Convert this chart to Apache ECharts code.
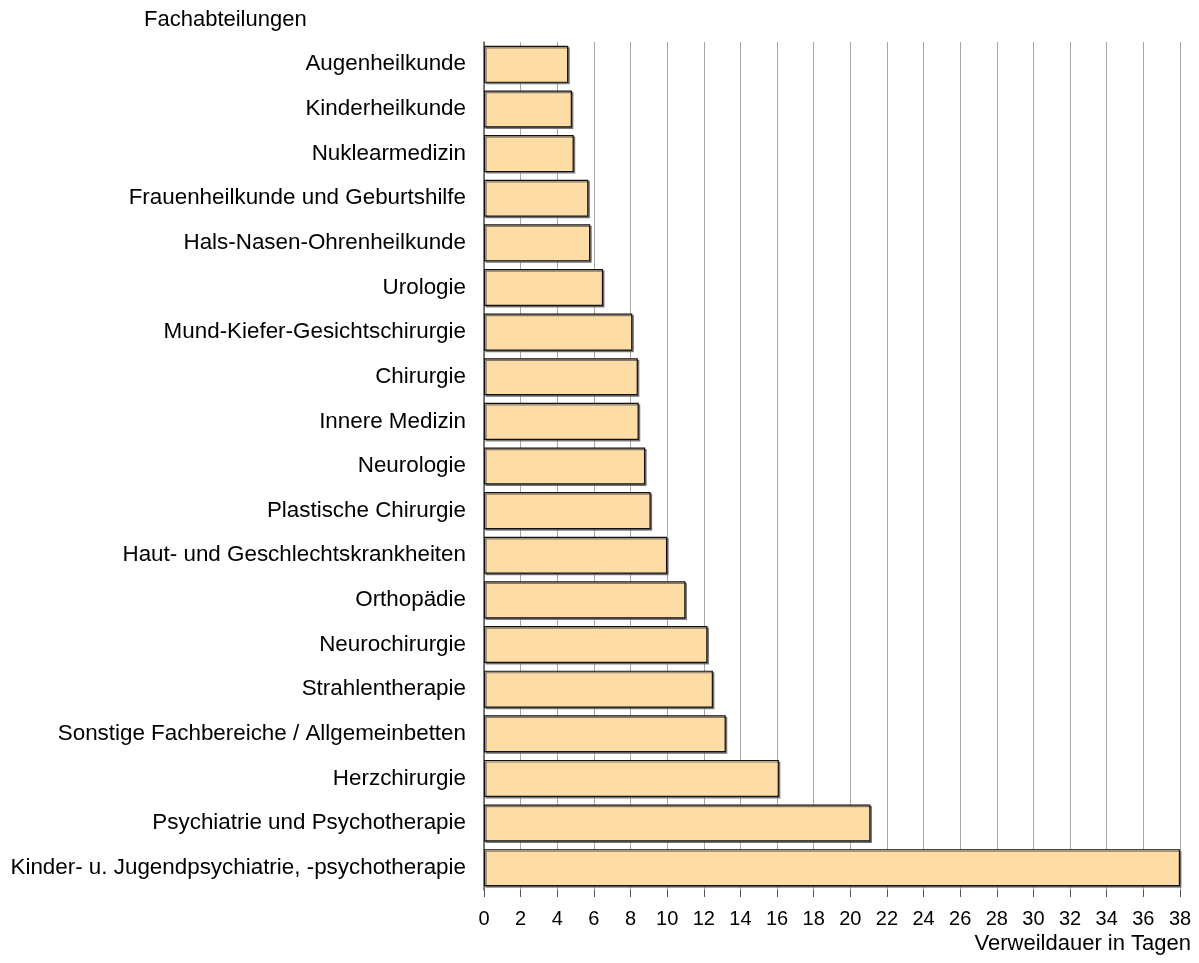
<!DOCTYPE html>
<html>
<head>
<meta charset="utf-8">
<script src="https://cdn.jsdelivr.net/npm/echarts@6/dist/echarts.min.js"></script>
<style>
  html, body { margin: 0; padding: 0; background: #fff; }
  #chart { width: 1199px; height: 963px; }
</style>
</head>
<body>
<div id="chart"></div>
<script>
// Fachabteilungen, top to bottom
const departments = [
  'Augenheilkunde',
  'Kinderheilkunde',
  'Nuklearmedizin',
  'Frauenheilkunde und Geburtshilfe',
  'Hals-Nasen-Ohrenheilkunde',
  'Urologie',
  'Mund-Kiefer-Gesichtschirurgie',
  'Chirurgie',
  'Innere Medizin',
  'Neurologie',
  'Plastische Chirurgie',
  'Haut- und Geschlechtskrankheiten',
  'Orthopädie',
  'Neurochirurgie',
  'Strahlentherapie',
  'Sonstige Fachbereiche / Allgemeinbetten',
  'Herzchirurgie',
  'Psychiatrie und Psychotherapie',
  'Kinder- u. Jugendpsychiatrie, -psychotherapie'
];

// Durchschnittliche Verweildauer in Tagen
const stayDays = [
  4.6, 4.8, 4.9, 5.7, 5.8, 6.5, 8.1, 8.4, 8.45, 8.8,
  9.1, 10.0, 11.0, 12.2, 12.5, 13.2, 16.1, 21.1, 38.0
];

const axisMin = 0;
const axisMax = 38;
const axisStep = 2;

const FONT = 'Liberation Sans, Arial, sans-serif';

const chart = echarts.init(document.getElementById('chart'), null, { renderer: 'canvas' });

chart.setOption({
  animation: false,
  backgroundColor: '#ffffff',
  textStyle: { fontFamily: FONT },
  title: [
    {
      text: 'Fachabteilungen',
      left: 144,
      top: 9,
      padding: 0,
      textStyle: { fontSize: 22, fontWeight: 'normal', color: '#000', fontFamily: FONT }
    },
    {
      text: 'Verweildauer in Tagen',
      right: 8,
      top: 933,
      padding: 0,
      textStyle: { fontSize: 22, fontWeight: 'normal', color: '#000', fontFamily: FONT }
    }
  ],
  grid: { left: 484, right: 19, top: 42, bottom: 73, containLabel: false },
  xAxis: {
    type: 'value',
    min: axisMin,
    max: axisMax,
    interval: axisStep,
    axisLine: { show: false },
    axisTick: { show: true, length: 7, lineStyle: { color: '#555', width: 1 } },
    axisLabel: { fontSize: 20, color: '#000', margin: 19 },
    splitLine: { show: true, lineStyle: { color: '#a6a6a6', width: 1 } }
  },
  yAxis: {
    type: 'category',
    data: departments,
    inverse: true,
    axisLine: { show: true, lineStyle: { color: '#555', width: 1.5 } },
    axisTick: { show: false },
    axisLabel: { fontSize: 22.4, color: '#000', margin: 18, padding: [0, 0, 4, 0] },
    splitLine: { show: false }
  },
  series: [{
    type: 'bar',
    data: stayDays,
    barCategoryGap: '17%',
    itemStyle: {
      color: '#fedca6',
      borderColor: '#111',
      borderWidth: 1.2,
      shadowColor: 'rgba(90,90,90,0.75)',
      shadowOffsetX: 1.5,
      shadowOffsetY: 1.5,
      shadowBlur: 0
    }
  }]
});
</script>
</body>
</html>
